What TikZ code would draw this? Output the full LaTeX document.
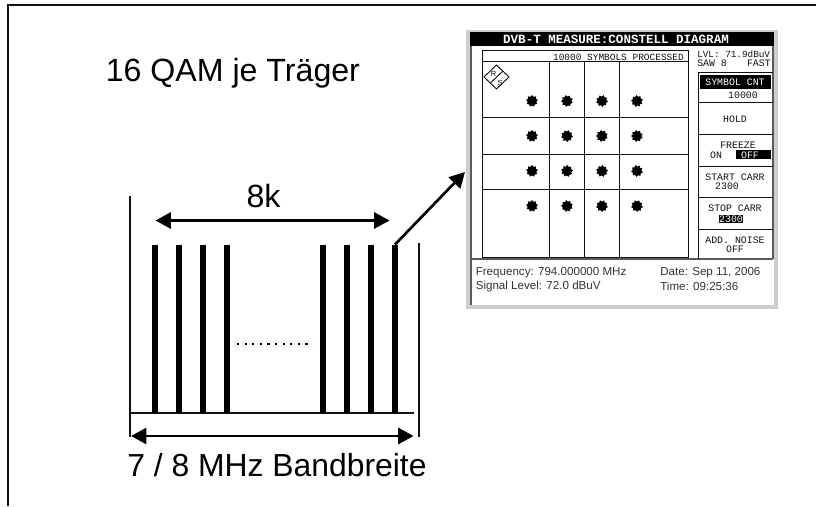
\documentclass[tikz,border=0pt]{standalone}
\usepackage{fontspec}
\setmainfont{Liberation Sans}
\setmonofont{Liberation Mono}
\usetikzlibrary{arrows.meta,shapes.geometric}
\definecolor{panelgrey}{HTML}{D0CEC8}
\definecolor{paneldark}{HTML}{5A5A5A}
\definecolor{ink}{HTML}{111111}
\tikzset{
  framerule/.style={line width=1.5pt,draw=ink},
  axisrule/.style={line width=1.1pt,draw=ink},
  carrier/.style={line width=4.5pt,draw=black},
  baserule/.style={line width=1.7pt,draw=ink},
  dimarrow/.style={line width=2pt,draw=black,{Triangle[length=11.5pt,width=12pt]}-{Triangle[length=11.5pt,width=12pt]}},
  diagarrow/.style={line width=2pt,draw=black,-{Triangle[length=11.5pt,width=12pt]}},
  bigtext/.style={font=\fontsize{24.1}{26}\selectfont,inner sep=0pt,text=black},
  screenline/.style={line width=0.75pt,draw=ink},
  sepline/.style={line width=1.2pt,draw=paneldark},
  monotext/.style={font=\ttfamily\fontsize{7.4}{8.8}\selectfont,inner sep=0pt,text=ink,align=center},
  footertext/.style={font=\fontsize{8.7}{10}\selectfont,inner sep=0pt,text=black!80,anchor=west},
  blob/.style={star,star points=9,star point ratio=1.35,fill=black,draw=none,inner sep=0pt,minimum size=9pt},
}
\begin{document}
\begin{tikzpicture}[x=0.75pt,y=-0.75pt]
\useasboundingbox (0,0) rectangle (816,506);
\fill[white] (0,0) rectangle (816,506);
% outer frame
\coordinate (frameBL) at (8,506);
\coordinate (frameTL) at (8,5);
\coordinate (frameTR) at (816,5);
\draw[framerule] (frameBL) -- (frameTL) -- (frameTR);
\node[bigtext,anchor=base west] (title) at (105.5,82) {16 QAM je Träger};
% spectrum
\coordinate (axisLt) at (130,196);
\coordinate (axisLb) at (130,437);
\coordinate (axisRt) at (419,243);
\coordinate (axisRb) at (419,437);
\coordinate (baseL) at (130,413);
\coordinate (baseR) at (413.5,413);
\draw[axisrule] (axisLt) -- (axisLb);
\draw[axisrule] (axisRt) -- (axisRb);
\draw[baserule] (baseL) -- (baseR);
\foreach \n/\x in {a/155,b/178.5,c/203,d/227,e/323,f/347,g/371,h/395}{
  \coordinate (top\n) at (\x,244.5);
  \coordinate (foot\n) at (\x,413);
  \draw[carrier] (top\n) -- (foot\n);
}
\coordinate (dotsL) at (237,344);
\coordinate (dotsR) at (313,344);
\draw[line width=1.9pt,draw=black,dash pattern=on 1.7pt off 4pt] (dotsL) -- (dotsR);
\coordinate (kL) at (155.5,220.5);
\coordinate (kR) at (389.5,220.5);
\draw[dimarrow] (kL) -- (kR);
\coordinate (bwL) at (131,436);
\coordinate (bwR) at (413.5,436);
\draw[dimarrow] (bwL) -- (bwR);
\node[bigtext,anchor=base] (k8) at (263.5,207) {8k};
\node[bigtext,anchor=base west,font=\fontsize{23.9}{26}\selectfont] (bw) at (127,476) {7 / 8 MHz Bandbreite};
% screenshot
\fill[panelgrey] (466,30) rectangle (777.5,309);
\fill[white] (469.5,32) rectangle (773.5,305);
\draw[sepline] (471,32) -- (471,305);
\draw[sepline] (773,32) -- (773,259);
\draw[sepline] (471,259) -- (773,259);
\fill[black] (470,32) rectangle (774,46.5);
\node[font=\ttfamily\bfseries\fontsize{9.4}{10}\selectfont,text=white,inner sep=0pt] (head) at (616,39.5) {DVB-T MEASURE:CONSTELL DIAGRAM};
% grid
\draw[screenline] (482,51) rectangle (688,257);
\draw[screenline] (482,62) -- (688,62);
\foreach \y in {118,154,189}{\draw[screenline] (482,\y) -- (688,\y);}
\foreach \x in {549,584,619}{\draw[screenline] (\x,62) -- (\x,257);}
\node[monotext,anchor=east,font=\ttfamily\fontsize{7.1}{8.8}\selectfont] (sym) at (684,57) {10000 SYMBOLS PROCESSED};
% logo
\draw[line width=0.7pt,draw=ink,fill=white] (484,77) -- (496.5,65) -- (509,77) -- (496.5,89) -- cycle;
\draw[line width=0.7pt,draw=ink] (490.5,83) -- (503,71);
\node[font=\fontsize{5.6}{6}\selectfont,inner sep=0pt] (logoR) at (493.5,74) {R};
\node[font=\fontsize{5.6}{6}\selectfont,inner sep=0pt] (logoS) at (500,83) {S};
% constellation
\foreach \i/\x/\r in {1/532/0,2/567/12,3/602/25,4/637/5}{
  \foreach \j/\y in {1/101,2/136,3/171,4/206}{
    \pgfmathsetmacro{\ang}{\r*\j}
    \node[blob,rotate=\ang] (pt\i\j) at (\x,\y) {};
  }
}
% status
\node[monotext,anchor=north west,align=left,font=\ttfamily\fontsize{7}{8.8}\selectfont] (lvl) at (697,50.5) {LVL: 71.9dBuV};
\node[monotext,anchor=north west] (saw) at (697,59.5) {SAW 8};
\node[monotext,anchor=north east] (fast) at (771,59.5) {FAST};
% softkeys
\draw[screenline] (698,73) -- (773,73);
\draw[screenline] (698,73) -- (698,259);
\foreach \y in {103,135,166,197,229}{\draw[screenline] (698,\y) -- (773,\y);}
\fill[black] (699.5,75) rectangle (771,89.5);
\node[monotext,text=white] (s1) at (735,82.5) {SYMBOL CNT};
\node[monotext] (s1b) at (743,95.5) {10000};
\node[monotext] (s2) at (735,119) {HOLD};
\node[monotext] (s3) at (738,145) {FREEZE};
\node[monotext] (s3b) at (716,155) {ON};
\fill[black] (735.5,150) rectangle (770.5,159);
\node[monotext,text=white] (s3c) at (750,155) {OFF};
\node[monotext] (s4) at (735,177) {START CARR};
\node[monotext] (s4b) at (727,186.5) {2300};
\node[monotext] (s5) at (735,208) {STOP CARR};
\fill[black] (719,214.5) rectangle (743,223);
\node[monotext,text=white] (s5b) at (731,219) {2300};
\node[monotext] (s6) at (735,240) {ADD. NOISE};
\node[monotext] (s6b) at (735,249.5) {OFF};
% footer
\node[footertext] (f1) at (475.5,272.5) {Frequency: 794.000000 MHz};
\node[footertext] (f2) at (475.5,286.5) {Signal Level: 72.0 dBuV};
\node[footertext] (f3) at (660,272.5) {Date: Sep 11, 2006};
\node[footertext] (f4) at (660,286.5) {Time: 09:25:36};
% link arrow
\coordinate (arrowEnd) at (465,172);
\draw[diagarrow] (toph) -- (arrowEnd);
\end{tikzpicture}
\end{document}
